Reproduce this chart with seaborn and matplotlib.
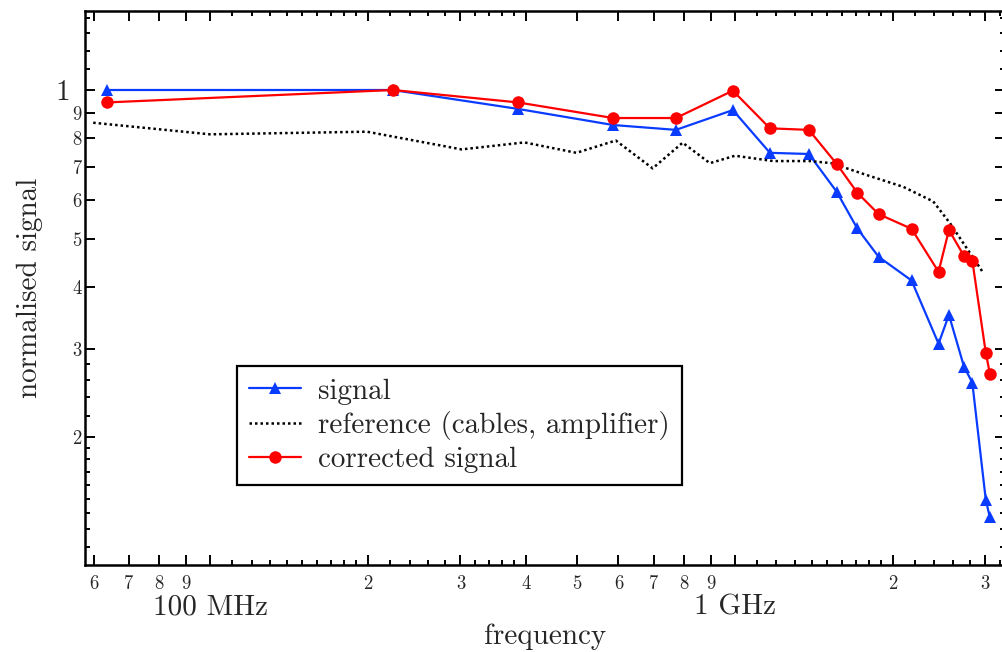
import numpy as np
import pandas as pd
import matplotlib
matplotlib.use("Agg")
import matplotlib.pyplot as plt
import seaborn as sns

# --- data (frequency in GHz, normalised amplitude) ---
sig_freq = [0.0637, 0.223, 0.386, 0.586, 0.772, 0.991, 1.166, 1.383, 1.562, 1.710,
            1.878, 2.170, 2.443, 2.557, 2.731, 2.833, 3.006, 3.060]
sig_val = [1.000, 1.000, 0.916, 0.850, 0.831, 0.911, 0.747, 0.743, 0.624, 0.526,
           0.461, 0.413, 0.308, 0.352, 0.277, 0.257, 0.149, 0.1375]

cor_freq = sig_freq
cor_val = [0.944, 1.000, 0.944, 0.878, 0.878, 0.997, 0.837, 0.831, 0.710, 0.621,
           0.562, 0.525, 0.430, 0.522, 0.463, 0.453, 0.295, 0.268]

ref_freq = [0.0599, 0.100, 0.199, 0.3015, 0.397, 0.499, 0.593, 0.697, 0.795, 0.896,
            1.000, 1.183, 1.390, 1.528, 1.781, 2.092, 2.387, 2.568, 2.972]
ref_val = [0.859, 0.814, 0.824, 0.759, 0.784, 0.747, 0.791, 0.695, 0.783, 0.712,
           0.737, 0.719, 0.719, 0.712, 0.674, 0.638, 0.596, 0.539, 0.428]

# axis ticks
x_decades = [0.1, 1.0]
x_decade_labels = ["100 MHz", "1 GHz"]
x_mid = [0.06, 0.07, 0.08, 0.09, 0.2, 0.3, 0.4, 0.5, 0.6, 0.7, 0.8, 0.9, 2.0, 3.0]
x_mid_labels = ["6", "7", "8", "9", "2", "3", "4", "5", "6", "7", "8", "9", "2", "3"]
x_small = ([0.11, 0.12, 0.13, 0.14, 0.15, 0.16, 0.17, 0.18, 0.19,
            0.22, 0.24, 0.26, 0.28, 0.32, 0.34, 0.36, 0.38,
            1.1, 1.2, 1.3, 1.4, 1.5, 1.6, 1.7, 1.8, 1.9,
            2.2, 2.4, 2.6, 2.8, 3.2])

y_major = [1.0]
y_major_labels = ["1"]
y_mid = [0.9, 0.8, 0.7, 0.6, 0.5, 0.4, 0.3, 0.2]
y_mid_labels = ["9", "8", "7", "6", "5", "4", "3", "2"]
y_small = [1.1, 1.2, 1.3, 1.4, 0.22, 0.24, 0.26, 0.28,
           0.19, 0.18, 0.17, 0.16, 0.15, 0.14, 0.13, 0.12]

sns.set_style("ticks")
plt.rcParams["font.family"] = ["cmr10", "DejaVu Serif"]
plt.rcParams["axes.formatter.use_mathtext"] = True

BLUE = "#0a3cff"
RED = "#ff0000"

fig = plt.figure(figsize=(10.02, 6.52), dpi=100)
ax = fig.add_axes([0.0853, 0.1334, 1.003 - 0.0853, 0.9831 - 0.1334])

df_sig = pd.DataFrame({"f": sig_freq, "v": sig_val})
df_ref = pd.DataFrame({"f": ref_freq, "v": ref_val})
df_cor = pd.DataFrame({"f": cor_freq, "v": cor_val})

sns.lineplot(data=df_sig, x="f", y="v", ax=ax, color=BLUE, lw=1.6, marker="^",
             markersize=9, markeredgewidth=0, estimator=None, sort=False, label="signal")
sns.lineplot(data=df_ref, x="f", y="v", ax=ax, color="black", lw=1.8,
             linestyle=(0, (1, 1.2)), estimator=None, sort=False,
             label="reference (cables, amplifier)")
sns.lineplot(data=df_cor, x="f", y="v", ax=ax, color=RED, lw=1.6, marker="o",
             markersize=9, markeredgewidth=0, estimator=None, sort=False,
             label="corrected signal")

ax.set_xscale("log")
ax.set_yscale("log")
ax.set_xlim(0.0579, 3.27)
ax.set_ylim(0.1102, 1.443)

# x ticks: decades (long), labelled integers (medium), small subdivisions
xt = x_decades + x_mid
xl = x_decade_labels + x_mid_labels
ax.set_xticks(xt)
ax.set_xticklabels(xl)
ax.set_xticks(x_small, minor=True)
ax.set_xticklabels([], minor=True)

yt = y_major + y_mid
yl = y_major_labels + y_mid_labels
ax.set_yticks(yt)
ax.set_yticklabels(yl)
ax.set_yticks(y_small, minor=True)
ax.set_yticklabels([], minor=True)

ax.tick_params(which="both", direction="in", top=True, right=True, width=1.4,
               color="black")
ax.tick_params(which="major", length=7.5, labelsize=13.5)
ax.tick_params(axis="x", which="major", pad=7)
ax.tick_params(axis="y", which="major", pad=2.5)
ax.tick_params(which="minor", length=3.8)

for t in ax.xaxis.get_major_ticks():
    if t.get_loc() in x_decades:
        t.tick1line.set_markersize(15)
        t.tick2line.set_markersize(15)
        t.label1.set_fontsize(21)
        t.set_pad(21)
for t in ax.yaxis.get_major_ticks():
    if t.get_loc() in y_major:
        t.tick1line.set_markersize(15)
        t.tick2line.set_markersize(15)
        t.label1.set_fontsize(21)
        t.set_pad(11)

for s in ax.spines.values():
    s.set_linewidth(1.8)
    s.set_color("black")

ax.set_xlabel("frequency", fontsize=21, labelpad=2)
ax.set_ylabel("normalised signal", fontsize=21, labelpad=9)

leg = ax.legend(loc="lower left", bbox_to_anchor=(0.1645, 0.1444), borderaxespad=0,
                fontsize=21, frameon=True, fancybox=False, framealpha=1,
                edgecolor="black", handlelength=1.8, handletextpad=0.55,
                borderpad=0.42, labelspacing=0.22)
leg.get_frame().set_linewidth(1.6)

fig.savefig("out.png", dpi=100)
